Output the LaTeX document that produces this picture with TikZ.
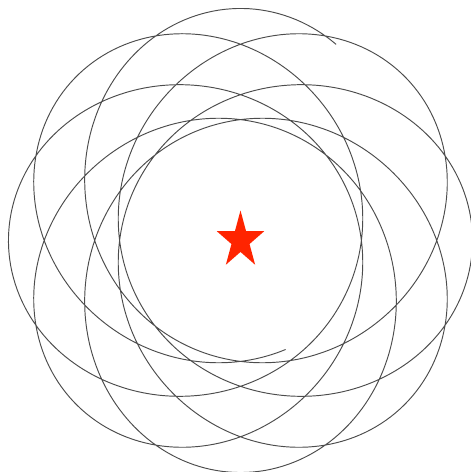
\documentclass[tikz,border=0pt]{standalone}
\usepackage{tikz}
\usetikzlibrary{shapes.geometric}
\definecolor{starred}{RGB}{255,36,0}
\begin{document}
\begin{tikzpicture}[
    x=1pt, y=1pt,
    orbit/.style={draw=black!70, line width=0.95pt, line join=round},
    sun/.style={
        star,
        star points=5,
        star point ratio=2.618,
        minimum size=60pt,
        inner sep=0pt,
        fill=starred,
        xscale=0.83
    }
]
\useasboundingbox (-240.5,-231.5) rectangle (230.5,240.5);

% precessing orbit, starting at pericentre
\draw[orbit] plot[domain=0:2388.5, samples=1600]
    ({-67.5-\x}:{156.4/(1+0.326*cos(8/7*\x))});

\node[sun] (sun) at (0,0) {};

\end{tikzpicture}
\end{document}
